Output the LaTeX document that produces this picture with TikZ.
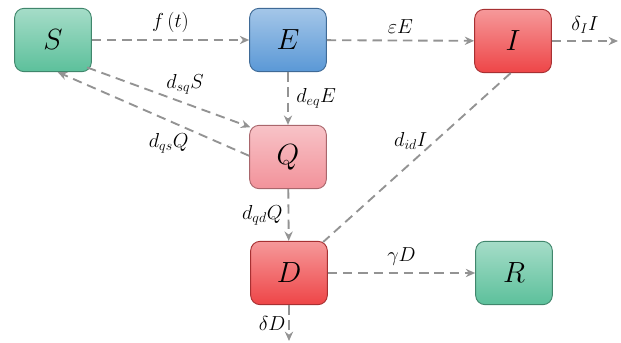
\documentclass[tikz,border=0pt]{standalone}
\usepackage{amsmath}
\usepackage{xcolor}
\usepackage{tikz}
\usetikzlibrary{arrows.meta, positioning}

\definecolor{verde}{HTML}{5CC09B}
\definecolor{azul}{HTML}{5A98D6}
\definecolor{vermelho}{HTML}{EE4547}
\definecolor{rosa}{HTML}{F2929A}

\begin{document}
\begin{tikzpicture}[x=0.03cm, y=-0.03cm,
            estado/.style={rounded corners=8pt, minimum width=2.3cm, minimum height=1.9cm, font=\Huge, line width=0.8pt},
            cor/.style={estado, draw=#1!70!black, top color=#1!55!white, bottom color=#1},
            fluxo/.style={draw=gray!85, dash pattern=on 8pt off 5pt, line width=1.6pt, -{Stealth[length=8pt, width=7pt]}},
            taxa/.style={font=\LARGE}
        ]
            \useasboundingbox (0,0) rectangle (621,343);

            % Compartimentos
            \node[cor=verde] (S) at (53,40) {$S$};
            \node[cor=azul] (E) at (288,40) {$E$};
            \node[cor=vermelho] (I) at (513,41) {$I$};
            \node[cor=rosa] (Q) at (288,157) {$Q$};
            \node[cor=vermelho] (D) at (289,273) {$D$};
            \node[cor=verde] (R) at (514,273) {$R$};

            % Saídas livres
            \coordinate (saidaI) at (618,41);
            \coordinate (saidaD) at (289,341);

            % Fluxos entre compartimentos
            \draw[fluxo] (S) -- (E) node[taxa, midway, above=2pt] {$f\,(t)$};
            \draw[fluxo] (E) -- (I) node[taxa, midway, above=2pt] {$\varepsilon E$};
            \draw[fluxo] (I) -- (saidaI) node[taxa, midway, above=2pt] {$\delta_{I} I$};
            \draw[fluxo] (E) -- (Q) node[taxa, midway, right=3pt] {$d_{eq}E$};
            \draw[fluxo] ([xshift=-4pt, yshift=4pt]S.south east) -- ([xshift=1pt, yshift=-2pt]Q.north west)
                node[taxa, pos=0.6, above=4pt] {$d_{sq}S$};
            \draw[fluxo] ([yshift=1pt]Q.west) -- ([xshift=4pt]S.south)
                node[taxa, pos=0.42, below=7pt] {$d_{qs}Q$};
            \draw[fluxo, -] ([xshift=-2pt]I.south) -- ([xshift=-4pt, yshift=-1pt]D.north east)
                node[taxa, pos=0.4, left=3pt] {$d_{id}I$};
            \draw[fluxo] (Q) -- (D) node[taxa, midway, left=1pt] {$d_{qd}Q$};
            \draw[fluxo] (D) -- (R) node[taxa, midway, above=2pt] {$\gamma D$};
            \draw[fluxo] (D) -- (saidaD) node[taxa, midway, left=-1pt] {$\delta D$};
        \end{tikzpicture}
\end{document}
